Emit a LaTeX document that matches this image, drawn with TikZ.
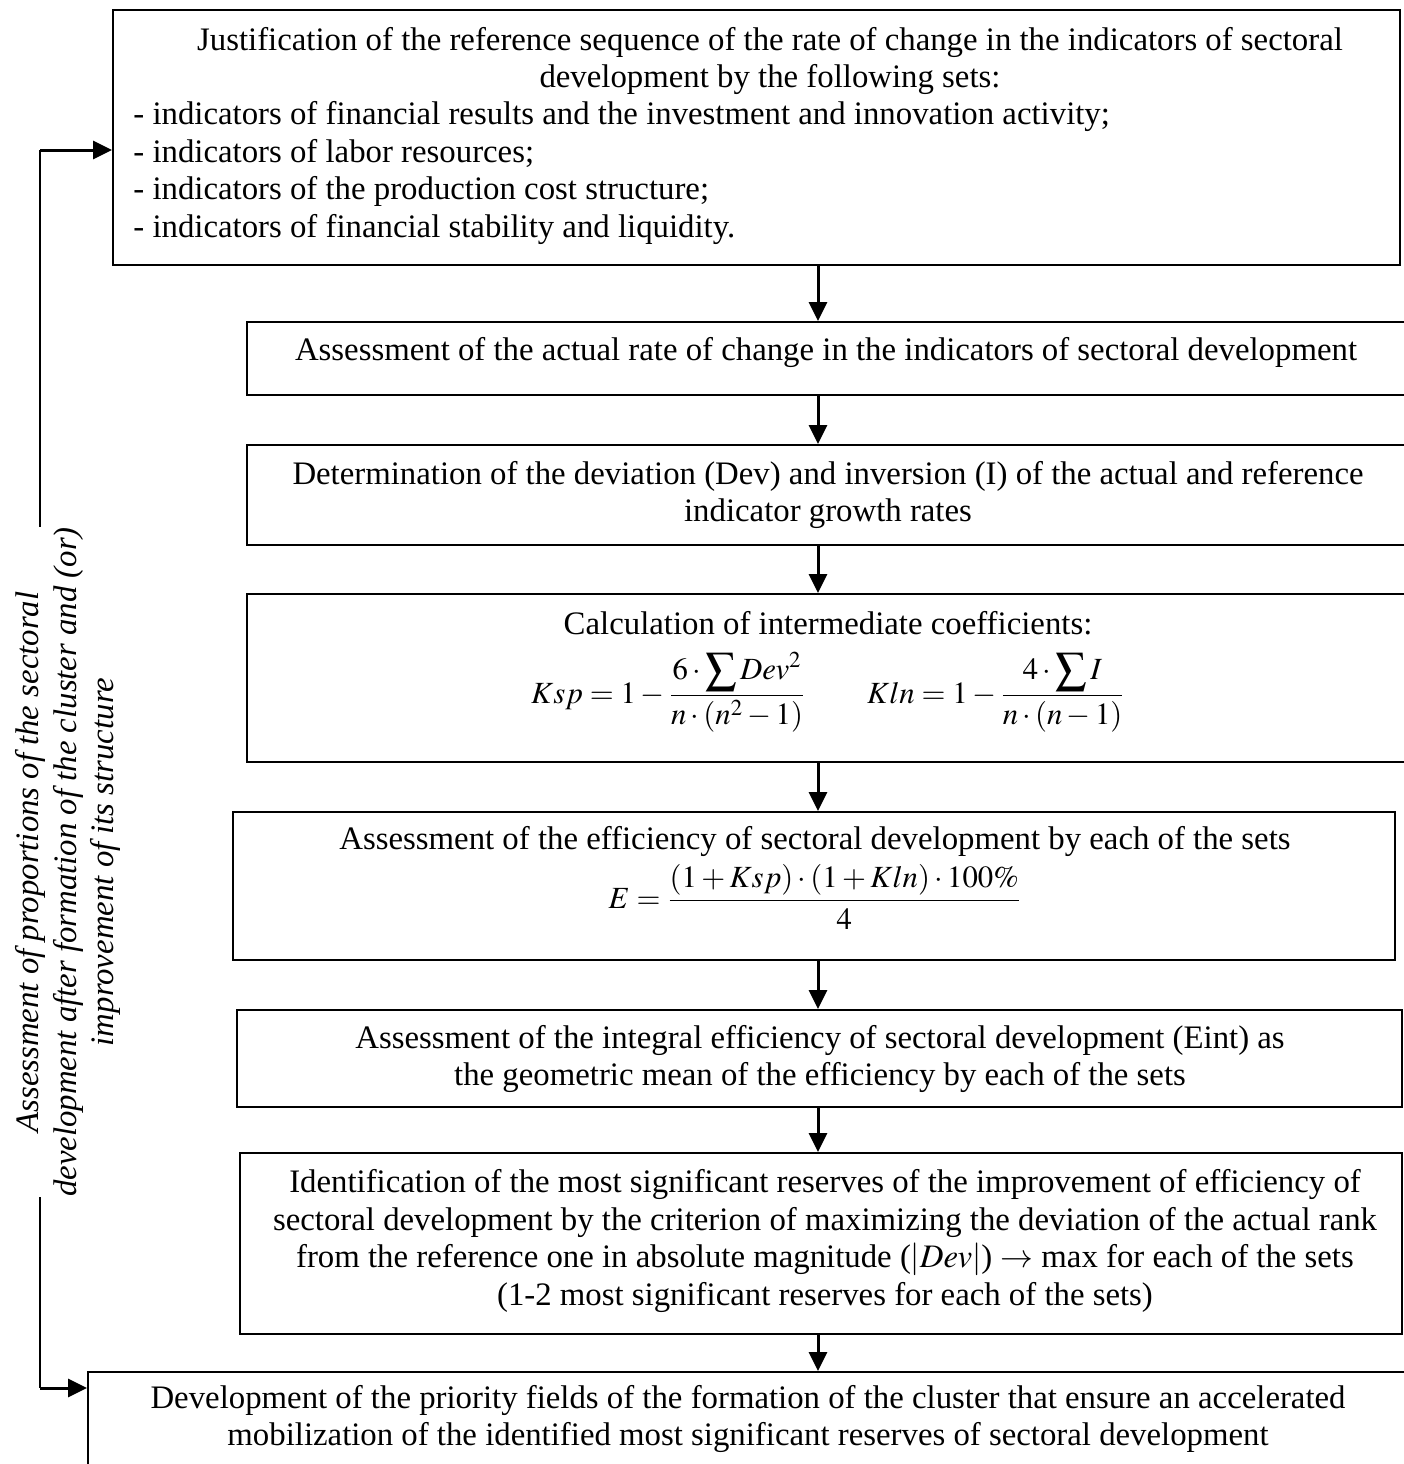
\documentclass[tikz,border=0pt]{standalone}
\usepackage{amsmath}
\usepackage{mathptmx}
\usepackage{fontspec}
\setmainfont{Liberation Serif}
\usetikzlibrary{arrows.meta,fit}
\begin{document}
\begin{tikzpicture}[x=0.5pt,y=-0.5pt,
  box/.style={draw, line width=1pt, inner sep=0pt},
  txt/.style={font=\fontsize{16.4}{18.9}\selectfont, align=center, inner sep=0pt},
  fml/.style={font=\fontsize{15.4}{18.9}\selectfont, align=center, inner sep=0pt},
  arr/.style={line width=1.5pt, -{Triangle[length=9.5pt,width=9pt]}},
  fb/.style={line width=0.9pt}]
\useasboundingbox (0,0) rectangle (1404,1464);
% boxes
\node[box, fit={(113,10) (1400,265)}] (b1) {};
\node[box, fit={(247,322) (1410,395)}] (b2) {};
\node[box, fit={(247,445) (1410,545)}] (b3) {};
\node[box, fit={(247,594) (1410,762)}] (b4) {};
\node[box, fit={(233,812) (1395,960)}] (b5) {};
\node[box, fit={(237,1010) (1402,1107)}] (b6) {};
\node[box, fit={(240,1153) (1402,1334)}] (b7) {};
\node[box, fit={(88,1372) (1420,1500)}] (b8) {};
% texts
\node[txt] (t1a) at (770,61) {Justification of the reference sequence of the rate of change in the indicators of sectoral\\development by the following sets:};
\node[txt, align=left, anchor=west] (t1b) at (133,173) {- indicators of financial results and the investment and innovation activity;\\- indicators of labor resources;\\- indicators of the production cost structure;\\- indicators of financial stability and liquidity.};
\node[txt] (t2) at (826,352) {Assessment of the actual rate of change in the indicators of sectoral development};
\node[txt] (t3) at (828,495) {Determination of the deviation (Dev) and inversion (I) of the actual and reference\\indicator growth rates};
\node[txt] (t4) at (828,623) {Calculation of intermediate coefficients:};
\node[fml] (f4) at (828,692) {$Ksp=1-\dfrac{6\cdot\displaystyle\sum Dev^{2}}{n\cdot(n^{2}-1)}\qquad Kln=1-\dfrac{4\cdot\displaystyle\sum I}{n\cdot(n-1)}$};
\node[txt] (t5) at (815,841) {Assessment of the efficiency of sectoral development by each of the sets};
\node[fml] (f5) at (815,897) {$E=\dfrac{(1+Ksp)\cdot(1+Kln)\cdot 100\%}{4}$};
\node[txt] (t6) at (820,1059) {Assessment of the integral efficiency of sectoral development (Eint) as\\the geometric mean of the efficiency by each of the sets};
\node[txt] (t7) at (825,1241) {Identification of the most significant reserves of the improvement of efficiency of\\sectoral development by the criterion of maximizing the deviation of the actual rank\\from the reference one in absolute magnitude ($|Dev|$) $\rightarrow$ max for each of the sets\\(1-2 most significant reserves for each of the sets)};
\node[txt] (t8) at (748,1419) {Development of the priority fields of the formation of the cluster that ensure an accelerated\\mobilization of the identified most significant reserves of sectoral development};
% vertical arrows
\coordinate (ax) at (818,0);
\draw[arr] (b1.south -| ax) -- (b2.north -| ax);
\draw[arr] (b2.south -| ax) -- (b3.north -| ax);
\draw[arr] (b3.south -| ax) -- (b4.north -| ax);
\draw[arr] (b4.south -| ax) -- (b5.north -| ax);
\draw[arr] (b5.south -| ax) -- (b6.north -| ax);
\draw[arr] (b6.south -| ax) -- (b7.north -| ax);
\draw[arr] (b7.south -| ax) -- (b8.north -| ax);
% feedback loop
\coordinate (vt) at (40,150);
\coordinate (vb) at (40,1388);
\draw[fb] (vt) -- (vb);
\draw[arr] (vt) -- (vt -| b1.west);
\draw[arr] (vb) -- (vb -| b8.west);
\node[txt, rotate=90, fill=white, font=\fontsize{16.4}{18.9}\selectfont\itshape] (side) at (68,862) {Assessment of proportions of the sectoral\\development after formation of the cluster and (or)\\improvement of its structure};
\end{tikzpicture}
\end{document}
